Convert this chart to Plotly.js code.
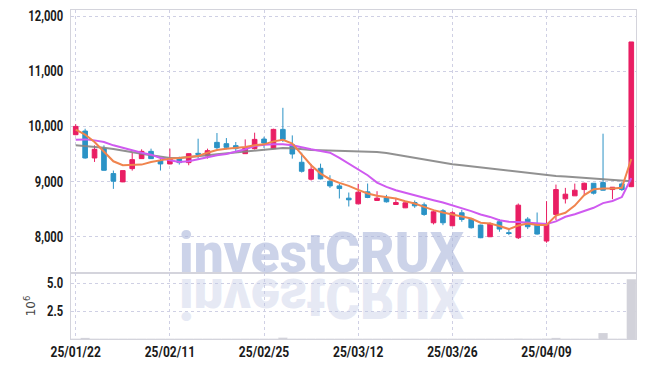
<!DOCTYPE html>
<html>
<head>
<meta charset="utf-8">
<script src="https://cdn.plot.ly/plotly-3.0.1.min.js"></script>
<style>
  html, body { margin: 0; padding: 0; background: #fff; }
  #chart { width: 645px; height: 367px; }
</style>
</head>
<body>
<div id="chart"></div>
<script>
const dates = [
  '25/01/22','25/01/23','25/01/24','25/01/31',
  '25/02/03','25/02/04','25/02/05','25/02/06','25/02/07','25/02/10','25/02/11','25/02/12','25/02/13','25/02/14',
  '25/02/17','25/02/18','25/02/19','25/02/20','25/02/21','25/02/24','25/02/25','25/02/26','25/02/27','25/02/28',
  '25/03/04','25/03/05','25/03/06','25/03/07','25/03/10','25/03/11','25/03/12','25/03/13','25/03/14',
  '25/03/17','25/03/18','25/03/19','25/03/20','25/03/21','25/03/24','25/03/25','25/03/26','25/03/27','25/03/28','25/03/31',
  '25/04/01','25/04/02','25/04/03','25/04/04','25/04/07','25/04/08','25/04/09','25/04/10','25/04/11',
  '25/04/14','25/04/15','25/04/16','25/04/17','25/04/18','25/04/21','25/04/22'
];
const openP  = [9850,9916,9428,9597,9145,8995,9235,9416,9548,9380,9320,9416,9344,9512,9464,9711,9687,9651,9506,9597,9771,9597,9946,9669,9350,9043,9241,9007,8922,8700,8597,8814,8658,8706,8585,8525,8621,8579,8254,8471,8200,8435,8320,8212,8001,8272,8075,7983,8320,8212,7923,8405,8688,8742,8856,8970,8982,8856,8958,8908];
const highP  = [10040,9958,9657,9657,9200,9199,9524,9585,9597,9428,9597,9452,9510,9777,9597,9880,9789,9717,9765,9886,9813,9958,10337,9837,9524,9320,9325,9115,8958,8802,8959,8965,8826,8760,8706,8625,8658,8621,8489,8501,8465,8489,8330,8220,8260,8320,8160,8603,8356,8440,8646,8946,8886,8964,8982,8975,9868,8900,8990,11530];
const lowP   = [9840,9416,9356,9200,8868,8990,9199,9410,9410,9200,9315,9308,9296,9416,9416,9585,9585,9548,9500,9580,9609,9590,9717,9416,9163,9019,9040,8886,8694,8549,8590,8700,8650,8620,8580,8520,8525,8380,8224,8211,8195,8272,8150,7975,7995,8092,8030,7960,8140,8040,7892,8302,8603,8740,8766,8766,8840,8682,8830,8900];
const closeP = [10000,9428,9585,9205,9007,9199,9398,9548,9416,9320,9416,9344,9506,9494,9560,9615,9621,9597,9615,9765,9699,9946,9765,9500,9187,9223,9049,8922,8874,8670,8808,8712,8700,8634,8621,8615,8561,8405,8453,8254,8435,8314,8164,7983,8242,8140,8060,8573,8182,8050,8242,8856,8772,8844,8970,8790,8844,8898,8856,11530];
const maShort = [9940,9850,9717,9536,9368,9296,9296,9308,9356,9386,9416,9428,9440,9464,9524,9573,9597,9609,9627,9657,9675,9729,9759,9687,9488,9296,9145,9043,8977,8922,8850,8784,8742,8718,8694,8645,8603,8543,8483,8441,8405,8381,8332,8254,8242,8195,8140,8205,8240,8215,8215,8385,8435,8565,8755,8860,8876,8876,8888,9410];
const maMid   = [9759,9765,9747,9717,9657,9609,9567,9524,9488,9428,9386,9356,9368,9404,9446,9476,9500,9536,9585,9645,9669,9675,9675,9657,9615,9585,9555,9524,9428,9326,9223,9115,8983,8904,8844,8796,8754,8706,8663,8621,8573,8525,8465,8405,8360,8300,8272,8268,8255,8235,8230,8280,8363,8410,8465,8525,8610,8650,8720,9064];
const maLong  = [9657,9645,9633,9615,9591,9567,9536,9506,9476,9446,9428,9428,9440,9464,9476,9494,9512,9524,9548,9567,9585,9597,9609,9603,9585,9573,9567,9561,9555,9548,9548,9548,9536,9518,9488,9464,9434,9404,9374,9338,9314,9296,9277,9259,9241,9217,9199,9175,9157,9133,9115,9103,9091,9079,9067,9055,9037,9025,9013,9007];
const volumeM = [0.03,0.10,0.03,0.03,0.03,0.03,0.03,0.03,0.03,0.03,0.03,0.03,0.03,0.03,0.03,0.03,0.03,0.03,0.03,0.03,0.03,0.03,0.12,0.03,0.03,0.03,0.03,0.03,0.03,0.03,0.03,0.03,0.03,0.03,0.03,0.03,0.03,0.03,0.03,0.03,0.03,0.03,0.03,0.03,0.03,0.03,0.03,0.04,0.03,0.03,0.04,0.10,0.03,0.03,0.03,0.03,0.53,0.03,0.03,5.34];
const tickDates = ['25/01/22','25/02/11','25/02/25','25/03/12','25/03/26','25/04/09'];
const priceTicks = [8000,9000,10000,11000,12000];
const priceTickText = ['8,000','9,000','10,000','11,000','12,000'];
const volumeTicks = [2.5,5.0];
const volumeTickText = ['2.5','5.0'];
const watermark = 'investCRUX';

const UP = '#e91e63', DOWN = '#2b93c6';
const tickFont = {family: 'Roboto, Liberation Sans, Arial, sans-serif', size: 14, color: '#1a1a1a', weight: 700};
const gridC = '#cfd0e4', lineC = '#d4d4dc';

const traces = [
  {type: 'candlestick', x: dates, open: openP, high: highP, low: lowP, close: closeP,
   xaxis: 'x', yaxis: 'y',
   increasing: {line: {color: UP, width: 1}, fillcolor: UP},
   decreasing: {line: {color: DOWN, width: 1}, fillcolor: DOWN},
   hoverinfo: 'skip', showlegend: false},
  {type: 'scatter', mode: 'lines', x: dates, y: maLong, line: {color: '#858585', width: 2}, opacity: 0.9, showlegend: false, hoverinfo: 'skip'},
  {type: 'scatter', mode: 'lines', x: dates, y: maMid, line: {color: '#cf5af0', width: 2}, showlegend: false, hoverinfo: 'skip'},
  {type: 'scatter', mode: 'lines', x: dates, y: maShort, line: {color: '#f0844e', width: 2}, showlegend: false, hoverinfo: 'skip'},
  {type: 'bar', x: dates, y: volumeM, xaxis: 'x', yaxis: 'y2', marker: {color: '#d2d2da'}, showlegend: false, hoverinfo: 'skip'}
];

const layout = {
  width: 645, height: 367,
  margin: {l: 71, r: 9, t: 10, b: 28},
  paper_bgcolor: '#fff', plot_bgcolor: '#fff',
  bargap: 0.02,
  showlegend: false,
  xaxis: {
    type: 'category', anchor: 'y2', range: [-0.5, 59.5],
    rangeslider: {visible: false},
    tickmode: 'array', tickvals: tickDates, ticktext: tickDates,
    tickfont: tickFont, ticks: '', ticklen: 0,
    showgrid: true, gridcolor: gridC, griddash: 'dot', gridwidth: 1,
    showline: true, linecolor: lineC, linewidth: 1, mirror: 'all',
    zeroline: false, fixedrange: true
  },
  yaxis: {
    domain: [0.2006, 1], range: [7344, 12109],
    tickmode: 'array', tickvals: priceTicks, ticktext: priceTickText,
    tickfont: tickFont, ticks: '', ticklabelstandoff: 4,
    showgrid: true, gridcolor: gridC, griddash: 'dot',
    showline: true, linecolor: lineC, mirror: true, zeroline: false
  },
  yaxis2: {
    domain: [0, 0.2006], range: [0, 5.9],
    tickmode: 'array', tickvals: volumeTicks, ticktext: volumeTickText,
    tickfont: tickFont, ticks: '', ticklabelstandoff: 4,
    title: {text: '10<sup>6</sup>', font: {family: 'DejaVu Sans, sans-serif', size: 12, color: '#444'}, standoff: 4},
    showgrid: true, gridcolor: gridC, griddash: 'dot',
    showline: true, linecolor: lineC, mirror: true, zeroline: false
  },
  annotations: [
    {text: watermark, xref: 'paper', yref: 'paper', x: 0.443, y: 0.262, xanchor: 'center', yanchor: 'middle',
     showarrow: false, font: {family: 'Roboto, Lato, Liberation Sans, sans-serif', size: 55, weight: 900, color: 'rgba(170,182,218,0.6)'}},
    {text: watermark, xref: 'paper', yref: 'paper', x: 0.443, y: 0.125, xanchor: 'center', yanchor: 'middle',
     showarrow: false, font: {family: 'Roboto, Lato, Liberation Sans, sans-serif', size: 55, weight: 900, color: 'rgba(190,198,228,0.38)'}}
  ]
};

function squeeze(t, sx) {
  const x0 = parseFloat(t.getAttribute('x')) || 0;
  const tr = t.getAttribute('transform') || '';
  t.setAttribute('transform', tr + ' translate(' + x0 + ',0) scale(' + sx + ',1) translate(' + (-x0) + ',0)');
}

Plotly.newPlot('chart', traces, layout, {staticPlot: true, displayModeBar: false}).then(function (gd) {
  gd.querySelectorAll('.xtick text').forEach(function (t) { t.style.fontWeight = '700'; squeeze(t, 0.86); });
  gd.querySelectorAll('.ytick text, .y2tick text').forEach(function (t) { t.style.fontWeight = '700'; squeeze(t, 0.8); });
  const texts = gd.querySelectorAll('.annotation-text');
  texts.forEach(function (t, i) {
    t.style.fontWeight = '900';
    const w = t.getBBox().width || 285;
    const sx = 285 / w;
    t.style.transformBox = 'fill-box';
    t.style.transformOrigin = 'center';
    t.style.transform = i === 0 ? 'scale(' + sx + ',1)' : 'scale(' + sx + ',-1)';
  });
});
</script>
</body>
</html>
